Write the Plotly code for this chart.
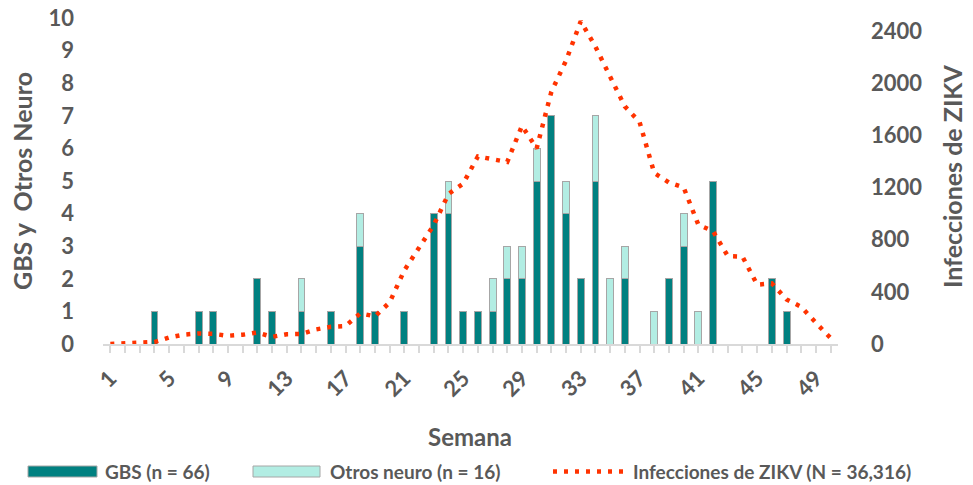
import plotly.graph_objects as go

# ---------------- data ----------------
weeks = list(range(1, 51))
tick_labels = [str(w) if (w - 1) % 4 == 0 else "" for w in weeks]

gbs = [0, 0, 0, 1, 0, 0, 1, 1, 0, 0,
       2, 1, 0, 1, 0, 1, 0, 3, 1, 0,
       1, 0, 4, 4, 1, 1, 1, 2, 2, 5,
       7, 4, 2, 5, 0, 2, 0, 0, 2, 3,
       0, 5, 0, 0, 0, 2, 1, 0, 0, 0]

otros = [0, 0, 0, 0, 0, 0, 0, 0, 0, 0,
         0, 0, 0, 1, 0, 0, 0, 1, 0, 0,
         0, 0, 0, 1, 0, 0, 1, 1, 1, 1,
         0, 1, 0, 2, 2, 1, 0, 1, 0, 1,
         1, 0, 0, 0, 0, 0, 0, 0, 0, 0]

zikv = [0, 5, 10, 15, 50, 72, 81, 78, 63, 71,
        88, 55, 75, 77, 112, 132, 138, 235, 212, 319,
        565, 737, 912, 1150, 1230, 1438, 1414, 1396, 1673, 1500,
        1934, 2173, 2475, 2280, 2050, 1822, 1703, 1311, 1238, 1200,
        915, 865, 675, 670, 455, 465, 342, 285, 162, 45]

left_ticks = list(range(0, 11))
right_ticks = [0, 400, 800, 1200, 1600, 2000, 2400]

name_gbs = "GBS (n = 66)"
name_otros = "Otros neuro (n = 16)"
name_zikv = "Infecciones de ZIKV (N = 36,316)"

# ---------------- style ----------------
W, H = 973, 485
L, R, T, B = 103, 135, 18, 141
PW, PH = W - L - R, H - T - B
TEAL = "#008080"
MINT = "#b2ede3"
RED = "#ff3300"
GREY = "#595959"
OUTLINE = "#a6a6a6"
FONT = "Lato"
DOT = "4px,7px"


def px(x):
    """pixel x -> paper coordinate"""
    return (x - L) / PW


def py(y):
    """pixel y -> paper coordinate"""
    return (H - B - y) / PH


def nz(vals):
    return [v if v else None for v in vals]


fig = go.Figure()
fig.add_trace(go.Bar(x=weeks, y=nz(gbs), name=name_gbs, width=0.47,
                     marker=dict(color=TEAL, line=dict(color=OUTLINE, width=1)),
                     showlegend=False))
fig.add_trace(go.Bar(x=weeks, y=nz(otros), name=name_otros, width=0.47,
                     marker=dict(color=MINT, line=dict(color=OUTLINE, width=1)),
                     showlegend=False))
fig.add_trace(go.Scatter(x=weeks, y=zikv, name=name_zikv, yaxis="y2",
                         mode="lines", line=dict(color=RED, width=4.5, dash=DOT),
                         showlegend=False))

tickfont = dict(family=FONT, size=22, color=GREY, weight="bold")

fig.update_layout(
    width=W, height=H,
    margin=dict(l=L, r=R, t=T, b=B, pad=0, autoexpand=False),
    paper_bgcolor="white", plot_bgcolor="white",
    barmode="stack",
    showlegend=False,
    font=dict(family=FONT, color=GREY),
    xaxis=dict(range=[0.5, 50.5], tickmode="array", tickvals=weeks, ticktext=tick_labels,
               tickangle=-45, tickfont=tickfont, showgrid=False, zeroline=False,
               showline=True, linecolor="#d9d9d9", linewidth=1.5,
               ticks="outside", ticklen=7, tickcolor="#d9d9d9", tickwidth=1.5,
               ticklabelstandoff=4, ticklabeloverflow="allow", automargin=False),
    yaxis=dict(range=[0, 10], tickmode="array", tickvals=left_ticks, tickfont=tickfont,
               showgrid=False, zeroline=False, showline=False, ticks="",
               ticklabelstandoff=28, ticklabeloverflow="allow", automargin=False),
    yaxis2=dict(range=[0, 2500], tickmode="array", tickvals=right_ticks, tickfont=tickfont,
                overlaying="y", side="right", showgrid=False, zeroline=False,
                showline=False, ticks="", ticklabelstandoff=32,
                ticklabeloverflow="allow", automargin=False),
)

annots = [
    dict(text="GBS y\u00a0 Otros Neuro", x=px(22), y=py(181), textangle=-90,
         font=dict(family=FONT, size=25, color=GREY, weight="bold")),
    dict(text="Infecciones de ZIKV", x=px(952), y=py(177), textangle=-90,
         font=dict(family=FONT, size=25, color=GREY, weight="bold")),
    dict(text="Semana", x=px(470), y=py(437),
         font=dict(family=FONT, size=24, color=GREY, weight="bold")),
]
legend_font = dict(family=FONT, size=19, color=GREY, weight="bold")
for txt, x0 in [(name_gbs, 103), (name_otros, 328), (name_zikv, 631)]:
    annots.append(dict(text=txt, x=px(x0), y=py(471.5), xanchor="left",
                       font=legend_font))
for a in annots:
    a.update(xref="paper", yref="paper", showarrow=False)
    a.setdefault("xanchor", "center")
    a.setdefault("yanchor", "middle")
fig.update_layout(annotations=annots)

shapes = [
    dict(type="rect", x0=px(28), x1=px(97), y0=py(477), y1=py(466),
         fillcolor=TEAL, line=dict(color=OUTLINE, width=1)),
    dict(type="rect", x0=px(253), x1=px(320), y0=py(477), y1=py(466),
         fillcolor=MINT, line=dict(color=OUTLINE, width=1)),
    dict(type="line", x0=px(553), x1=px(627), y0=py(471.5), y1=py(471.5),
         line=dict(color=RED, width=4.5, dash=DOT)),
]
for s in shapes:
    s.update(xref="paper", yref="paper")
fig.update_layout(shapes=shapes)

fig.write_html("out.html",
               config={"displayModeBar": False},
               post_script="document.body.style.margin='0px';"
                           "document.body.style.overflow='hidden';")
